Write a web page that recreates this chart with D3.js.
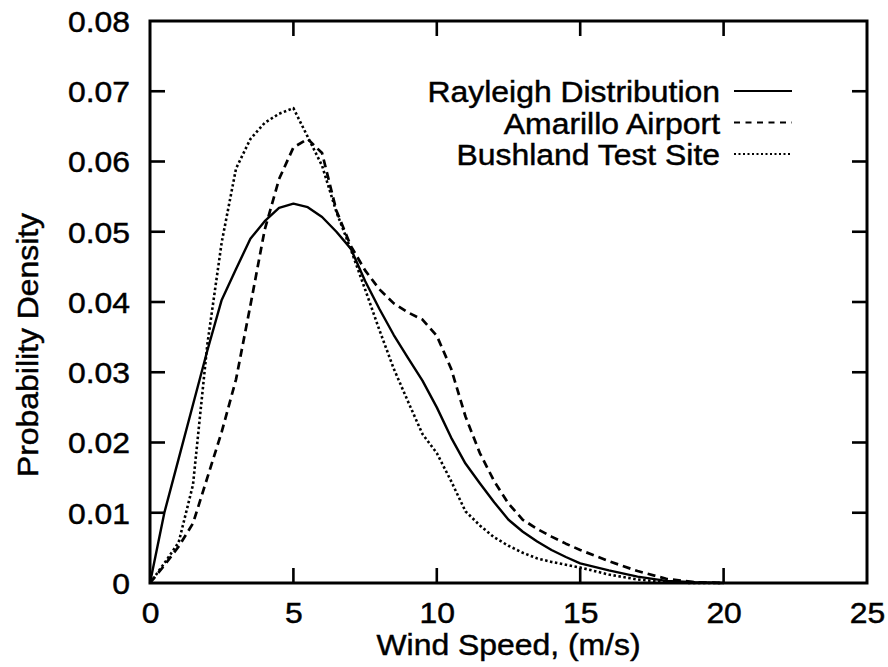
<!DOCTYPE html>
<html>
<head>
<meta charset="utf-8">
<script src="https://cdn.jsdelivr.net/npm/d3@7/dist/d3.min.js"></script>
<style>
  html, body { margin: 0; padding: 0; background: #fff; }
  svg { display: block; }
  text { font-family: "Liberation Sans", Arial, Helvetica, sans-serif; fill: #000; stroke: #000; stroke-width: 0.45px; }
</style>
</head>
<body>
<svg id="chart" width="888" height="667"></svg>
<script>
// Wind speed bins (m/s)
const windSpeed = [0, 0.5, 1, 1.5, 2, 2.5, 3, 3.5, 4, 4.5, 5, 5.5, 6, 6.5, 7, 7.5, 8, 8.5, 9, 9.5,
                   10, 10.5, 11, 11.5, 12, 12.5, 13, 13.5, 14, 14.5, 15, 16, 17, 18, 19, 20];

// Probability density for each site / model
const rayleigh = [0, 0.0100, 0.0177, 0.0254, 0.0331, 0.0403, 0.0447, 0.0490, 0.0515, 0.0534, 0.0540, 0.0535,
                  0.0521, 0.0500, 0.0476, 0.0430, 0.0390, 0.0353, 0.0320, 0.0288, 0.0250, 0.0207, 0.0170,
                  0.0142, 0.0115, 0.0090, 0.0073, 0.0059, 0.0047, 0.0037, 0.0028, 0.0018, 0.0009, 0.0003,
                  0.0001, 0];
const amarillo = [0, 0.0025, 0.0052, 0.0085, 0.0150, 0.0215, 0.0290, 0.0395, 0.0503, 0.0575, 0.0620, 0.0632,
                  0.0612, 0.0530, 0.0480, 0.0445, 0.0418, 0.0398, 0.0385, 0.0375, 0.0352, 0.0305, 0.0237,
                  0.0185, 0.0145, 0.0113, 0.0090, 0.0077, 0.0066, 0.0056, 0.0047, 0.0031, 0.0017, 0.0006,
                  0.0001, 0];
const bushland = [0, 0.0028, 0.0058, 0.0140, 0.0340, 0.0485, 0.0590, 0.0632, 0.0655, 0.0668, 0.0676, 0.0635,
                  0.0594, 0.0528, 0.0475, 0.0418, 0.0360, 0.0305, 0.0258, 0.0212, 0.0185, 0.0145, 0.0102,
                  0.0082, 0.0065, 0.0053, 0.0043, 0.0035, 0.0030, 0.0026, 0.0022, 0.0012, 0.0005, 0.0001,
                  0, 0];

const seriesNames = ["Rayleigh Distribution", "Amarillo Airport", "Bushland Test Site"];
const xTicks = [0, 5, 10, 15, 20, 25];
const yTicks = [0, 0.01, 0.02, 0.03, 0.04, 0.05, 0.06, 0.07, 0.08];

const series = [
  { name: seriesNames[0], values: rayleigh, dash: null,      width: 2.4 },
  { name: seriesNames[1], values: amarillo, dash: "8,5",     width: 2.7 },
  { name: seriesNames[2], values: bushland, dash: "2.5,2.5", width: 2.6 }
];

const svg = d3.select("#chart");
const plot = { left: 150, right: 867, top: 21, bottom: 583 };
const FONT = 29, SX = 1.1;

const x = d3.scaleLinear().domain([0, 25]).range([plot.left, plot.right]);
const y = d3.scaleLinear().domain([0, 0.08]).range([plot.bottom, plot.top]);

// Curves
const line = d3.line().x((d, i) => x(windSpeed[i])).y(d => y(d)).curve(d3.curveLinear);
svg.append("g").selectAll("path").data(series).join("path")
  .attr("d", s => line(s.values))
  .attr("fill", "none")
  .attr("stroke", "#000")
  .attr("stroke-width", s => s.width)
  .attr("stroke-dasharray", s => s.dash)
  .attr("stroke-linejoin", "round");

// Inward ticks on all four sides
const tickLen = 15;
const innerX = xTicks.slice(1, -1), innerY = yTicks.slice(1, -1);
const ticks = svg.append("g").attr("stroke", "#000").attr("stroke-width", 2.6);
innerX.forEach(v => {
  ticks.append("line").attr("x1", x(v)).attr("x2", x(v)).attr("y1", plot.bottom).attr("y2", plot.bottom - tickLen);
  ticks.append("line").attr("x1", x(v)).attr("x2", x(v)).attr("y1", plot.top).attr("y2", plot.top + tickLen);
});
innerY.forEach(v => {
  ticks.append("line").attr("x1", plot.left).attr("x2", plot.left + tickLen).attr("y1", y(v)).attr("y2", y(v));
  ticks.append("line").attr("x1", plot.right).attr("x2", plot.right - tickLen).attr("y1", y(v)).attr("y2", y(v));
});

// Frame
svg.append("rect")
  .attr("x", plot.left).attr("y", plot.top)
  .attr("width", plot.right - plot.left).attr("height", plot.bottom - plot.top)
  .attr("fill", "none").attr("stroke", "#000").attr("stroke-width", 3);

// Axis tick labels (bottom and left) via d3 axes with hidden tick marks
const xAxis = svg.append("g").attr("transform", `translate(0,${plot.bottom})`)
  .call(d3.axisBottom(x).tickValues(xTicks).tickFormat(d3.format("d")).tickSize(0));
xAxis.select(".domain").remove();
xAxis.selectAll("text")
  .attr("x", 0).attr("y", 0).attr("dy", 0)
  .attr("transform", `translate(0,40) scale(${SX},1)`)
  .attr("text-anchor", "middle")
  .attr("font-family", null)
  .style("font-size", FONT + "px");

const yFmt = d => d === 0 ? "0" : d3.format(".2f")(d);
const yAxis = svg.append("g").attr("transform", `translate(${plot.left},0)`)
  .call(d3.axisLeft(y).tickValues(yTicks).tickFormat(yFmt).tickSize(0));
yAxis.select(".domain").remove();
yAxis.selectAll("text")
  .attr("x", 0).attr("dy", "0.36em")
  .attr("transform", `translate(-20,0) scale(${SX},1)`)
  .attr("text-anchor", "end")
  .attr("font-family", null)
  .style("font-size", FONT + "px");

// Axis titles
svg.append("text")
  .attr("transform", `translate(${(plot.left + plot.right) / 2},655) scale(${SX},1)`)
  .attr("text-anchor", "middle")
  .style("font-size", FONT + "px")
  .text("Wind Speed, (m/s)");

svg.append("text")
  .attr("transform", `translate(38,345) rotate(-90) scale(${SX},1)`)
  .attr("text-anchor", "middle")
  .style("font-size", FONT + "px")
  .text("Probability Density");

// Legend
const legendRight = 720, legendY = [102, 133.5, 165];
const legend = svg.append("g");
series.forEach((s, i) => {
  legend.append("text")
    .attr("transform", `translate(${legendRight},${legendY[i]}) scale(${SX},1)`)
    .attr("text-anchor", "end")
    .style("font-size", FONT + "px")
    .text(s.name);
  legend.append("line")
    .attr("x1", 734).attr("x2", 792)
    .attr("y1", legendY[i] - 11).attr("y2", legendY[i] - 11)
    .attr("stroke", "#000")
    .attr("stroke-width", 1.9)
    .attr("stroke-dasharray", i === 0 ? null : (i === 1 ? "6,5.5" : "2,2.5"));
});
</script>
</body>
</html>
